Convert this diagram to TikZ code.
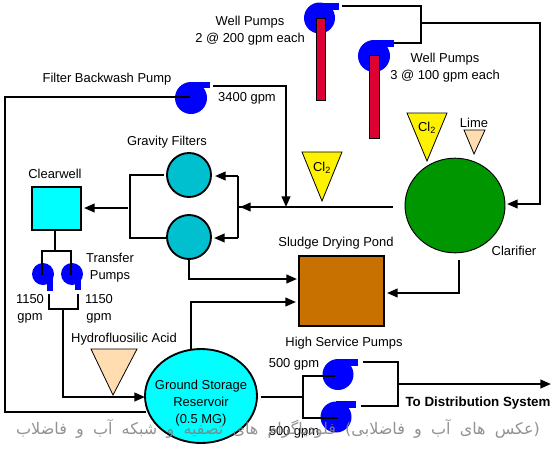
\documentclass[tikz,border=0pt]{standalone}
\usepackage{fontspec}
\usetikzlibrary{arrows.meta,shapes.geometric}
\setmainfont{Liberation Sans}
\newfontfamily\arabicfont[Script=Arabic]{DejaVu Sans}
\TeXXeTstate=1
\definecolor{pumpblue}{HTML}{0000FF}
\definecolor{wellred}{HTML}{DC0033}
\definecolor{clargreen}{HTML}{009600}
\definecolor{filtercyan}{HTML}{00BFCF}
\definecolor{brightcyan}{HTML}{00FFFF}
\definecolor{pale}{HTML}{FFDDB0}
\definecolor{pond}{HTML}{C87000}
\tikzset{
 x=0.75pt,y=-0.75pt,
 pipe/.style={draw=black,line width=1.5pt,line join=miter},
 flow/.style={pipe,-{Triangle[length=8pt,width=6.5pt]}},
 lbl/.style={font=\fontsize{9.7}{12.75}\selectfont,inner sep=0pt,align=center,text=black},
 pumpbody/.style={circle,fill=pumpblue,minimum size=#1*0.75pt,inner sep=0pt},
 tank/.style={circle,draw=black,line width=1.4pt,fill=filtercyan,minimum size=33pt,inner sep=0pt},
 box/.style={draw=black,line width=1.5pt,inner sep=0pt},
 riser/.style={draw=black,line width=0.6pt,fill=wellred},
 chem/.style={draw=black,line width=0.6pt},
}
\begin{document}
\begin{tikzpicture}
\useasboundingbox (0,0) rectangle (555,451);
\fill[white] (0,0) rectangle (555,451);

% well pumps
\node[pumpbody=31] (wp1) at (319.5,18) {};
\fill[pumpblue] (319,3) rectangle (339,10);
\draw[riser] (316,18) rectangle (325,100);
\node[pumpbody=32] (wp2) at (374,56) {};
\fill[pumpblue] (374,40) rectangle (394,47);
\draw[riser] (369,55) rectangle (379,138);
% other pumps
\node[pumpbody=32] (fb) at (191,98) {};
\fill[pumpblue] (191,82) rectangle (210,88);
\node[pumpbody=22] (tp1) at (43,274) {};
\fill[pumpblue] (47,274) rectangle (53,291);
\node[pumpbody=22] (tp2) at (72,274) {};
\fill[pumpblue] (75,274) rectangle (81,290);
\node[pumpbody=31] (hs1) at (338,374.5) {};
\fill[pumpblue] (338,359) rectangle (358,366);
\node[pumpbody=31] (hs2) at (336,417) {};
\fill[pumpblue] (336,401) rectangle (356,408);

% process units
\node[ellipse,draw=black,line width=0.7pt,fill=clargreen,minimum width=75pt,minimum height=71pt,inner sep=0pt] (clar) at (455,205.5) {};
\node[tank] (f1) at (189,175) {};
\node[tank] (f2) at (189,237) {};
\node[box,fill=brightcyan,minimum width=36.75pt,minimum height=32.25pt] (cw) at (56.5,208.5) {};
\node[box,fill=pond,minimum width=63.75pt,minimum height=52.5pt] (sl) at (341.5,291) {};
\node[ellipse,draw=black,line width=1.4pt,fill=brightcyan,minimum width=84pt,minimum height=70.5pt,inner sep=0pt] (gsr) at (201,396) {};

% chemical feeds
\draw[chem,fill=yellow] (407,113) -- (447,113) -- (427,161) -- cycle;
\draw[chem,fill=pale] (464,130) -- (485,130) -- (474,154) -- cycle;
\draw[chem,fill=yellow] (302,152) -- (342,152) -- (322,201) -- cycle;
\draw[chem,fill=pale] (91,349) -- (137,349) -- (113,395) -- cycle;

% junction coordinates
\coordinate (a1) at (342,6); \coordinate (a2) at (421,6); \coordinate (a3) at (421,43); \coordinate (a4) at (394,43);
\coordinate (b1) at (421,23); \coordinate (b2) at (540,23); \coordinate (b3) at (540,204); \coordinate (b4) at (507,204);
\coordinate (c1) at (393,207); \coordinate (c2) at (238,207); \coordinate (c3) at (240,207);
\coordinate (d1) at (238,176); \coordinate (d2) at (238,238); \coordinate (d3) at (215,176); \coordinate (d4) at (214,238);
\coordinate (e1) at (164,175); \coordinate (e2) at (130,175); \coordinate (e3) at (130,238); \coordinate (e4) at (167,238);
\coordinate (e5) at (128,208); \coordinate (e6) at (84,208);
\coordinate (g1) at (55,230); \coordinate (g2) at (55,251); \coordinate (g3) at (42,251); \coordinate (g4) at (71,251);
\coordinate (g5) at (42,275); \coordinate (g6) at (71,275);
\coordinate (h1) at (49,294); \coordinate (h2) at (49,309); \coordinate (h3) at (78,309); \coordinate (h4) at (78,294);
\coordinate (h5) at (63,309); \coordinate (h6) at (63,397); \coordinate (h7) at (145,397);
\coordinate (i1) at (5,97); \coordinate (i2) at (5,412); \coordinate (i3) at (146,412);
\coordinate (j1) at (213,86); \coordinate (j2) at (286,86); \coordinate (j3) at (286,207);
\coordinate (k1) at (189,258); \coordinate (k2) at (189,279); \coordinate (k3) at (297,279);
\coordinate (m1) at (191,349); \coordinate (m2) at (191,302); \coordinate (m3) at (296,302);
\coordinate (n1) at (459,260); \coordinate (n2) at (459,293); \coordinate (n3) at (387,293);
\coordinate (p1) at (261,397); \coordinate (p2) at (303,397); \coordinate (p3) at (303,376); \coordinate (p4) at (303,418);
\coordinate (p5) at (335,376); \coordinate (p6) at (338,418);
\coordinate (q1) at (363,362); \coordinate (q2) at (398,362); \coordinate (q3) at (398,406); \coordinate (q4) at (361,406);
\coordinate (q5) at (398,384); \coordinate (q6) at (551,384);
\coordinate (i0) at (190,97);

% connectors
\draw[pipe] (a1) -- (a2) -- (a3) -- (a4);
\draw[flow] (b1) -- (b2) -- (b3) -- (b4);
\draw[pipe] (c1) -- (c2);
\draw[flow] (c1) -- (c3);
\draw[pipe] (d1) -- (d2);
\draw[flow] (d1) -- (d3);
\draw[flow] (d2) -- (d4);
\draw[pipe] (e1) -- (e2) -- (e3) -- (e4);
\draw[flow] (e5) -- (e6);
\draw[pipe] (g1) -- (g2);
\draw[pipe] (g5) -- (g3) -- (g4) -- (g6);
\draw[pipe] (h1) -- (h2) -- (h3) -- (h4);
\draw[flow] (h5) -- (h6) -- (h7);
\draw[pipe] (i0) -- (i1) -- (i2) -- (i3);
\draw[flow] (j1) -- (j2) -- (j3);
\draw[flow] (k1) -- (k2) -- (k3);
\draw[flow] (m1) -- (m2) -- (m3);
\draw[flow] (n1) -- (n2) -- (n3);
\draw[pipe] (p1) -- (p2);
\draw[pipe] (p5) -- (p3) -- (p4) -- (p6);
\draw[pipe] (q1) -- (q2) -- (q3) -- (q4);
\draw[flow] (q5) -- (q6);

% labels
\node[lbl] (t1) at (250,30.5) {Well Pumps\\2 @ 200 gpm each};
\node[lbl] (t2) at (445,68) {Well Pumps\\3 @ 100 gpm each};
\node[lbl] (t3) at (107,79) {Filter Backwash Pump};
\node[lbl] (t4) at (247,98) {3400 gpm};
\node[lbl] (t5) at (167,142) {Gravity Filters};
\node[lbl] (t6) at (55,174) {Clearwell};
\node[lbl] (t7) at (110,268) {Transfer\\Pumps};
\node[lbl] (t8) at (336,243) {Sludge Drying Pond};
\node[lbl] (t9) at (514,251) {Clarifier};
\node[lbl] (t10) at (474,123) {Lime};
\node[lbl] (t11) at (427,128) {Cl\textsubscript{2}};
\node[lbl] (t12) at (322,168) {Cl\textsubscript{2}};
\node[lbl] (t13) at (30,309) {1150\\gpm};
\node[lbl] (t14) at (99,309) {1150\\gpm};
\node[lbl] (t15) at (124,339) {Hydrofluosilic Acid};
\node[lbl] (t16) at (201,403) {Ground Storage\\Reservoir\\(0.5 MG)};
\node[lbl] (t17) at (344,343) {High Service Pumps};
\node[lbl] (t18) at (294,364) {500 gpm};
\node[lbl] (t19) at (294,432) {500 gpm};
\node[lbl,font=\fontsize{10}{12}\selectfont\bfseries] (t20) at (478,403) {To Distribution System};
% watermark
\node[inner sep=0pt,text=gray,opacity=.85,font=\fontsize{12}{14}\selectfont] (wm) at (278,429)
 {\arabicfont\spaceskip=6.9pt\beginR (عکس های آب و فاضلابی) فلودیاگرام های تصفیه و شبکه آب و فاضلاب\endR};
\end{tikzpicture}
\end{document}
